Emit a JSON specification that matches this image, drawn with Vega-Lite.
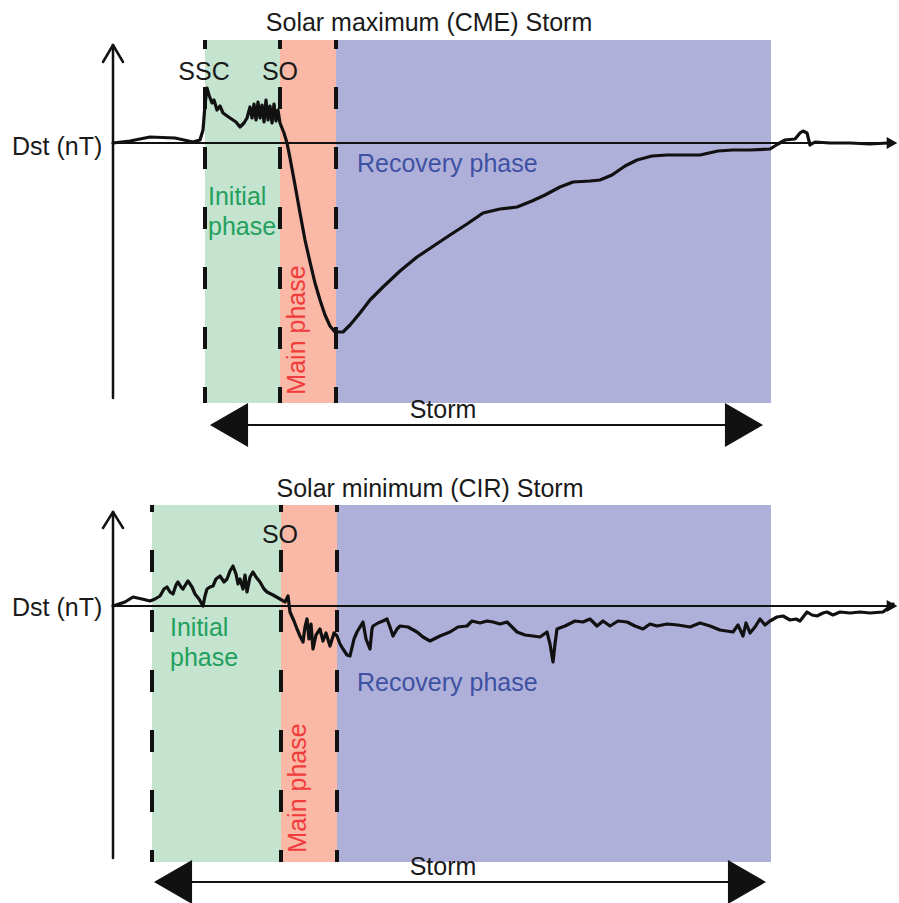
{
  "$schema": "https://vega.github.io/schema/vega-lite/v6.json",
  "padding": 0,
  "background": "white",
  "spacing": 0,
  "config": {"view": {"stroke": null}, "concat": {"spacing": 0}},
  "resolve": {"scale": {"x": "independent", "y": "independent", "color": "independent"}},
  "vconcat": [
    {
      "width": 899,
      "height": 451,
      "resolve": {"scale": {"color": "independent", "shape": "independent", "strokeWidth": "independent"}},
      "encoding": {
        "x": {"field": "t", "type": "quantitative", "scale": {"domain": [0, 899], "nice": false, "zero": false}, "axis": null},
        "y": {"field": "dst", "type": "quantitative", "scale": {"domain": [-308, 143], "nice": false, "zero": false}, "axis": null}
      },
      "layer": [
        {
          "data": {"values": [
            {"phase": "Initial", "t": 205, "t2": 280, "dst": 103, "dst2": -260},
            {"phase": "Main", "t": 280, "t2": 336, "dst": 103, "dst2": -260},
            {"phase": "Recovery", "t": 336, "t2": 771, "dst": 103, "dst2": -260}
          ]},
          "mark": {"type": "rect"},
          "encoding": {
            "x2": {"field": "t2"},
            "y2": {"field": "dst2"},
            "color": {"field": "phase", "type": "nominal", "scale": {"domain": ["Initial", "Main", "Recovery"], "range": ["#c4e4cf", "#fab8a6", "#aeb0d9"]}, "legend": null}
          }
        },
        {
          "data": {"values": [
            {"t": 205, "dst": 103, "dst2": -260},
            {"t": 280, "dst": 103, "dst2": -260},
            {"t": 336, "dst": 103, "dst2": -260}
          ]},
          "mark": {"type": "rule", "color": "#111111", "strokeWidth": 4, "strokeDash": [22, 38], "strokeDashOffset": 13},
          "encoding": {"y2": {"field": "dst2"}}
        },
        {
          "data": {"values": [
            {"t": 113, "dst": -255, "t2": 113, "dst2": 98, "kind": "axis"},
            {"t": 103, "dst": 81, "t2": 113, "dst2": 98, "kind": "axis"},
            {"t": 123, "dst": 81, "t2": 113, "dst2": 98, "kind": "axis"},
            {"t": 113, "dst": 0, "t2": 888, "dst2": 0, "kind": "base"},
            {"t": 235, "dst": -282, "t2": 735, "dst2": -282, "kind": "storm"}
          ]},
          "mark": {"type": "rule", "color": "#111111", "strokeCap": "round"},
          "encoding": {
            "x2": {"field": "t2"},
            "y2": {"field": "dst2"},
            "strokeWidth": {"field": "kind", "type": "nominal", "scale": {"domain": ["axis", "base", "storm"], "range": [2.5, 1.8, 4.5]}, "legend": null}
          }
        },
        {
          "data": {"values": [
            {"t": 113, "dst": 0}, {"t": 130, "dst": 2}, {"t": 150, "dst": 6}, {"t": 175, "dst": 5}, {"t": 193, "dst": 1},
            {"t": 200, "dst": 3}, {"t": 203, "dst": 13}, {"t": 205, "dst": 38}, {"t": 207, "dst": 55}, {"t": 209, "dst": 48},
            {"t": 212, "dst": 40}, {"t": 214, "dst": 43}, {"t": 217, "dst": 33}, {"t": 220, "dst": 37}, {"t": 223, "dst": 30},
            {"t": 230, "dst": 25}, {"t": 236, "dst": 21}, {"t": 240, "dst": 16}, {"t": 244, "dst": 20}, {"t": 247, "dst": 25},
            {"t": 250, "dst": 36}, {"t": 252, "dst": 25}, {"t": 254, "dst": 39}, {"t": 256, "dst": 23}, {"t": 258, "dst": 41},
            {"t": 260, "dst": 25}, {"t": 262, "dst": 38}, {"t": 264, "dst": 21}, {"t": 266, "dst": 43}, {"t": 268, "dst": 23},
            {"t": 270, "dst": 37}, {"t": 272, "dst": 20}, {"t": 274, "dst": 39}, {"t": 276, "dst": 22}, {"t": 278, "dst": 33},
            {"t": 280, "dst": 20}, {"t": 284, "dst": 10}, {"t": 287, "dst": 0}, {"t": 290, "dst": -15}, {"t": 295, "dst": -42},
            {"t": 300, "dst": -70}, {"t": 305, "dst": -97}, {"t": 310, "dst": -119}, {"t": 315, "dst": -140}, {"t": 320, "dst": -157},
            {"t": 325, "dst": -172}, {"t": 330, "dst": -183}, {"t": 335, "dst": -189}, {"t": 343, "dst": -189}, {"t": 350, "dst": -182},
            {"t": 360, "dst": -170}, {"t": 370, "dst": -157}, {"t": 383, "dst": -144}, {"t": 400, "dst": -128}, {"t": 417, "dst": -114},
            {"t": 435, "dst": -102}, {"t": 450, "dst": -92}, {"t": 467, "dst": -81}, {"t": 483, "dst": -70}, {"t": 500, "dst": -66},
            {"t": 517, "dst": -64}, {"t": 532, "dst": -58}, {"t": 545, "dst": -52}, {"t": 560, "dst": -44}, {"t": 573, "dst": -39},
            {"t": 590, "dst": -38}, {"t": 600, "dst": -37}, {"t": 612, "dst": -32}, {"t": 625, "dst": -23}, {"t": 637, "dst": -17},
            {"t": 652, "dst": -13}, {"t": 667, "dst": -12}, {"t": 685, "dst": -12}, {"t": 700, "dst": -12}, {"t": 718, "dst": -8},
            {"t": 733, "dst": -7}, {"t": 750, "dst": -7}, {"t": 770, "dst": -6}, {"t": 778, "dst": -1}, {"t": 785, "dst": 3},
            {"t": 795, "dst": 4}, {"t": 800, "dst": 10}, {"t": 803, "dst": 12}, {"t": 807, "dst": 10}, {"t": 810, "dst": -2},
            {"t": 815, "dst": 1}, {"t": 830, "dst": 0}, {"t": 850, "dst": 0}, {"t": 870, "dst": -1}, {"t": 888, "dst": 0}
          ]},
          "mark": {"type": "line", "color": "#111111", "strokeWidth": 3.2, "strokeJoin": "round", "strokeCap": "round"},
          "encoding": {}
        },
        {
          "data": {"values": [
            {"t": 892, "dst": 0, "dir": "right"}
          ]},
          "mark": {"type": "point", "filled": true, "opacity": 1, "color": "#111111", "size": 150, "strokeWidth": 0},
          "encoding": {
            "shape": {"field": "dir", "type": "nominal", "scale": {"domain": ["left", "right"], "range": ["triangle-left", "triangle-right"]}, "legend": null}
          }
        },
        {
          "data": {"values": [
            {"t": 229, "dst": -282, "dir": "left"},
            {"t": 744, "dst": -282, "dir": "right"}
          ]},
          "mark": {"type": "point", "filled": true, "opacity": 1, "color": "#111111", "size": 1936, "strokeWidth": 0},
          "encoding": {
            "shape": {"field": "dir", "type": "nominal", "scale": {"domain": ["left", "right"], "range": ["triangle-left", "triangle-right"]}, "legend": null}
          }
        },
        {
          "data": {"values": [
            {"label": "Solar maximum (CME) Storm", "t": 429, "dst": 112, "role": "black"},
            {"label": "SSC", "t": 204, "dst": 63, "role": "black"},
            {"label": "SO", "t": 280, "dst": 63, "role": "black"},
            {"label": "Storm", "t": 443, "dst": -275, "role": "black"}
          ]},
          "mark": {"type": "text", "font": "Liberation Sans", "fontSize": 25, "align": "center", "baseline": "alphabetic"},
          "encoding": {
            "text": {"field": "label"},
            "color": {"field": "role", "type": "nominal", "scale": {"domain": ["black", "green", "blue", "red"], "range": ["#1a1a1a", "#22a05e", "#3f51a3", "#f03c3c"]}, "legend": null}
          }
        },
        {
          "data": {"values": [
            {"label": "Dst (nT)", "t": 12, "dst": -12, "role": "black"},
            {"label": "Initial", "t": 208, "dst": -62, "role": "green"},
            {"label": "phase", "t": 208, "dst": -92, "role": "green"},
            {"label": "Recovery phase", "t": 357, "dst": -29, "role": "blue"}
          ]},
          "mark": {"type": "text", "font": "Liberation Sans", "fontSize": 25, "align": "left", "baseline": "alphabetic"},
          "encoding": {
            "text": {"field": "label"},
            "color": {"field": "role", "type": "nominal", "scale": {"domain": ["black", "green", "blue", "red"], "range": ["#1a1a1a", "#22a05e", "#3f51a3", "#f03c3c"]}, "legend": null}
          }
        },
        {
          "data": {"values": [
            {"label": "Main phase", "t": 305, "dst": -187, "role": "red"}
          ]},
          "mark": {"type": "text", "font": "Liberation Sans", "fontSize": 25, "align": "center", "baseline": "alphabetic", "angle": 270},
          "encoding": {
            "text": {"field": "label"},
            "color": {"field": "role", "type": "nominal", "scale": {"domain": ["black", "green", "blue", "red"], "range": ["#1a1a1a", "#22a05e", "#3f51a3", "#f03c3c"]}, "legend": null}
          }
        }
      ]
    },
    {
      "width": 899,
      "height": 452,
      "resolve": {"scale": {"color": "independent", "shape": "independent", "strokeWidth": "independent"}},
      "encoding": {
        "x": {"field": "t", "type": "quantitative", "scale": {"domain": [0, 899], "nice": false, "zero": false}, "axis": null},
        "y": {"field": "dst", "type": "quantitative", "scale": {"domain": [-297, 155], "nice": false, "zero": false}, "axis": null}
      },
      "layer": [
        {
          "data": {"values": [
            {"phase": "Initial", "t": 152, "t2": 281, "dst": 101, "dst2": -256},
            {"phase": "Main", "t": 281, "t2": 337, "dst": 101, "dst2": -256},
            {"phase": "Recovery", "t": 337, "t2": 771, "dst": 101, "dst2": -256}
          ]},
          "mark": {"type": "rect"},
          "encoding": {
            "x2": {"field": "t2"},
            "y2": {"field": "dst2"},
            "color": {"field": "phase", "type": "nominal", "scale": {"domain": ["Initial", "Main", "Recovery"], "range": ["#c4e4cf", "#fab8a6", "#aeb0d9"]}, "legend": null}
          }
        },
        {
          "data": {"values": [
            {"t": 152, "dst": 101, "dst2": -256},
            {"t": 281, "dst": 101, "dst2": -256},
            {"t": 337, "dst": 101, "dst2": -256}
          ]},
          "mark": {"type": "rule", "color": "#111111", "strokeWidth": 4, "strokeDash": [22, 38], "strokeDashOffset": 15},
          "encoding": {"y2": {"field": "dst2"}}
        },
        {
          "data": {"values": [
            {"t": 113, "dst": -252, "t2": 113, "dst2": 94, "kind": "axis"},
            {"t": 103, "dst": 78, "t2": 113, "dst2": 94, "kind": "axis"},
            {"t": 123, "dst": 78, "t2": 113, "dst2": 94, "kind": "axis"},
            {"t": 113, "dst": 0, "t2": 888, "dst2": 0, "kind": "base"},
            {"t": 180, "dst": -276, "t2": 740, "dst2": -276, "kind": "storm"}
          ]},
          "mark": {"type": "rule", "color": "#111111", "strokeCap": "round"},
          "encoding": {
            "x2": {"field": "t2"},
            "y2": {"field": "dst2"},
            "strokeWidth": {"field": "kind", "type": "nominal", "scale": {"domain": ["axis", "base", "storm"], "range": [2.5, 1.8, 4.5]}, "legend": null}
          }
        },
        {
          "data": {"values": [
            {"t": 113, "dst": 0}, {"t": 125, "dst": 4}, {"t": 133, "dst": 9}, {"t": 142, "dst": 7}, {"t": 150, "dst": 5},
            {"t": 155, "dst": 7}, {"t": 160, "dst": 10}, {"t": 164, "dst": 17}, {"t": 167, "dst": 19}, {"t": 170, "dst": 14},
            {"t": 173, "dst": 12}, {"t": 176, "dst": 21}, {"t": 178, "dst": 24}, {"t": 181, "dst": 19}, {"t": 183, "dst": 17},
            {"t": 186, "dst": 22}, {"t": 188, "dst": 25}, {"t": 192, "dst": 19}, {"t": 195, "dst": 12}, {"t": 199, "dst": 7},
            {"t": 203, "dst": 0}, {"t": 205, "dst": 10}, {"t": 207, "dst": 17}, {"t": 210, "dst": 19}, {"t": 213, "dst": 20},
            {"t": 216, "dst": 27}, {"t": 220, "dst": 30}, {"t": 224, "dst": 24}, {"t": 227, "dst": 27}, {"t": 230, "dst": 35},
            {"t": 233, "dst": 40}, {"t": 236, "dst": 32}, {"t": 238, "dst": 22}, {"t": 240, "dst": 27}, {"t": 243, "dst": 17},
            {"t": 245, "dst": 31}, {"t": 247, "dst": 14}, {"t": 250, "dst": 29}, {"t": 253, "dst": 34}, {"t": 256, "dst": 29},
            {"t": 260, "dst": 24}, {"t": 264, "dst": 17}, {"t": 267, "dst": 14}, {"t": 273, "dst": 11}, {"t": 280, "dst": 7},
            {"t": 285, "dst": 4}, {"t": 288, "dst": 10}, {"t": 290, "dst": -6}, {"t": 294, "dst": -15}, {"t": 297, "dst": -23},
            {"t": 300, "dst": -30}, {"t": 303, "dst": -36}, {"t": 305, "dst": -21}, {"t": 307, "dst": -13}, {"t": 309, "dst": -33},
            {"t": 311, "dst": -18}, {"t": 313, "dst": -43}, {"t": 316, "dst": -29}, {"t": 320, "dst": -23}, {"t": 323, "dst": -35},
            {"t": 326, "dst": -27}, {"t": 330, "dst": -40}, {"t": 334, "dst": -27}, {"t": 337, "dst": -30}, {"t": 340, "dst": -38},
            {"t": 343, "dst": -43}, {"t": 347, "dst": -49}, {"t": 350, "dst": -50}, {"t": 354, "dst": -33}, {"t": 357, "dst": -26},
            {"t": 360, "dst": -21}, {"t": 363, "dst": -16}, {"t": 366, "dst": -33}, {"t": 370, "dst": -43}, {"t": 372, "dst": -23},
            {"t": 373, "dst": -20}, {"t": 378, "dst": -17}, {"t": 383, "dst": -15}, {"t": 387, "dst": -13}, {"t": 390, "dst": -21},
            {"t": 393, "dst": -30}, {"t": 397, "dst": -23}, {"t": 400, "dst": -20}, {"t": 408, "dst": -21}, {"t": 417, "dst": -26},
            {"t": 423, "dst": -31}, {"t": 430, "dst": -35}, {"t": 440, "dst": -30}, {"t": 450, "dst": -26}, {"t": 458, "dst": -21},
            {"t": 467, "dst": -20}, {"t": 472, "dst": -15}, {"t": 480, "dst": -17}, {"t": 487, "dst": -15}, {"t": 493, "dst": -16},
            {"t": 500, "dst": -18}, {"t": 507, "dst": -16}, {"t": 517, "dst": -26}, {"t": 525, "dst": -29}, {"t": 533, "dst": -30},
            {"t": 540, "dst": -31}, {"t": 547, "dst": -26}, {"t": 550, "dst": -38}, {"t": 553, "dst": -56}, {"t": 555, "dst": -38},
            {"t": 557, "dst": -23}, {"t": 565, "dst": -20}, {"t": 575, "dst": -15}, {"t": 583, "dst": -16}, {"t": 590, "dst": -13},
            {"t": 597, "dst": -20}, {"t": 603, "dst": -15}, {"t": 610, "dst": -20}, {"t": 618, "dst": -15}, {"t": 627, "dst": -16},
            {"t": 635, "dst": -20}, {"t": 643, "dst": -23}, {"t": 650, "dst": -18}, {"t": 657, "dst": -20}, {"t": 667, "dst": -18},
            {"t": 678, "dst": -19}, {"t": 690, "dst": -21}, {"t": 700, "dst": -17}, {"t": 710, "dst": -20}, {"t": 720, "dst": -24},
            {"t": 733, "dst": -26}, {"t": 738, "dst": -19}, {"t": 743, "dst": -30}, {"t": 746, "dst": -17}, {"t": 750, "dst": -27},
            {"t": 755, "dst": -21}, {"t": 760, "dst": -13}, {"t": 765, "dst": -19}, {"t": 770, "dst": -15}, {"t": 777, "dst": -11},
            {"t": 783, "dst": -10}, {"t": 790, "dst": -14}, {"t": 796, "dst": -13}, {"t": 800, "dst": -15}, {"t": 807, "dst": -6},
            {"t": 812, "dst": -9}, {"t": 817, "dst": -10}, {"t": 823, "dst": -7}, {"t": 827, "dst": -6}, {"t": 833, "dst": -9},
            {"t": 840, "dst": -6}, {"t": 850, "dst": -7}, {"t": 860, "dst": -6}, {"t": 870, "dst": -7}, {"t": 883, "dst": -6},
            {"t": 893, "dst": 2}
          ]},
          "mark": {"type": "line", "color": "#111111", "strokeWidth": 3.2, "strokeJoin": "round", "strokeCap": "round"},
          "encoding": {}
        },
        {
          "data": {"values": [
            {"t": 892, "dst": 0, "dir": "right"}
          ]},
          "mark": {"type": "point", "filled": true, "opacity": 1, "color": "#111111", "size": 150, "strokeWidth": 0},
          "encoding": {
            "shape": {"field": "dir", "type": "nominal", "scale": {"domain": ["left", "right"], "range": ["triangle-left", "triangle-right"]}, "legend": null}
          }
        },
        {
          "data": {"values": [
            {"t": 173, "dst": -276, "dir": "left"},
            {"t": 747, "dst": -276, "dir": "right"}
          ]},
          "mark": {"type": "point", "filled": true, "opacity": 1, "color": "#111111", "size": 1936, "strokeWidth": 0},
          "encoding": {
            "shape": {"field": "dir", "type": "nominal", "scale": {"domain": ["left", "right"], "range": ["triangle-left", "triangle-right"]}, "legend": null}
          }
        },
        {
          "data": {"values": [
            {"label": "Solar minimum (CIR) Storm", "t": 430, "dst": 109, "role": "black"},
            {"label": "SO", "t": 280, "dst": 63, "role": "black"},
            {"label": "Storm", "t": 443, "dst": -269, "role": "black"}
          ]},
          "mark": {"type": "text", "font": "Liberation Sans", "fontSize": 25, "align": "center", "baseline": "alphabetic"},
          "encoding": {
            "text": {"field": "label"},
            "color": {"field": "role", "type": "nominal", "scale": {"domain": ["black", "green", "blue", "red"], "range": ["#1a1a1a", "#22a05e", "#3f51a3", "#f03c3c"]}, "legend": null}
          }
        },
        {
          "data": {"values": [
            {"label": "Dst (nT)", "t": 12, "dst": -10, "role": "black"},
            {"label": "Initial", "t": 170, "dst": -30, "role": "green"},
            {"label": "phase", "t": 170, "dst": -60, "role": "green"},
            {"label": "Recovery phase", "t": 357, "dst": -85, "role": "blue"}
          ]},
          "mark": {"type": "text", "font": "Liberation Sans", "fontSize": 25, "align": "left", "baseline": "alphabetic"},
          "encoding": {
            "text": {"field": "label"},
            "color": {"field": "role", "type": "nominal", "scale": {"domain": ["black", "green", "blue", "red"], "range": ["#1a1a1a", "#22a05e", "#3f51a3", "#f03c3c"]}, "legend": null}
          }
        },
        {
          "data": {"values": [
            {"label": "Main phase", "t": 306, "dst": -182, "role": "red"}
          ]},
          "mark": {"type": "text", "font": "Liberation Sans", "fontSize": 25, "align": "center", "baseline": "alphabetic", "angle": 270},
          "encoding": {
            "text": {"field": "label"},
            "color": {"field": "role", "type": "nominal", "scale": {"domain": ["black", "green", "blue", "red"], "range": ["#1a1a1a", "#22a05e", "#3f51a3", "#f03c3c"]}, "legend": null}
          }
        }
      ]
    }
  ]
}
